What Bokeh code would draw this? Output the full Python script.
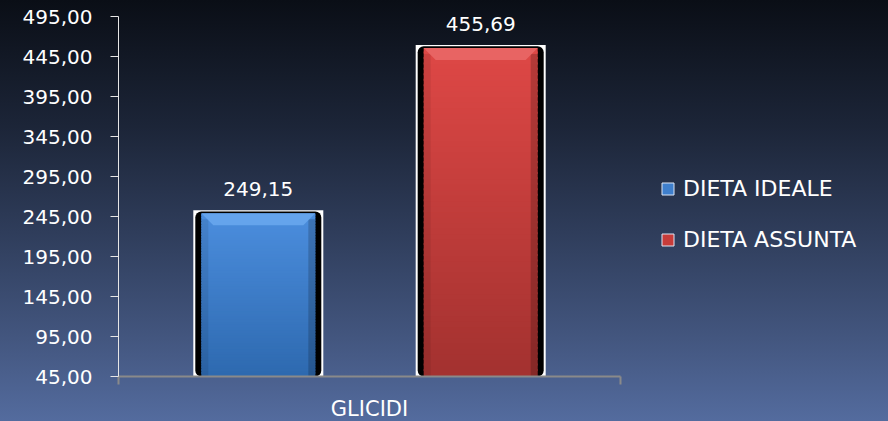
import numpy as np
from bokeh.plotting import figure
from bokeh.models import Range1d, FixedTicker, Legend, LegendItem
from bokeh.core.properties import value
from bokeh.embed import file_html
from bokeh.resources import INLINE

# ---- data ----
category = "GLICIDI"
series = ["DIETA IDEALE", "DIETA ASSUNTA"]
values = [249.15, 455.69]
y_ticks = [45, 95, 145, 195, 245, 295, 345, 395, 445, 495]

# ---- style ----
top_cols = [(76, 142, 222), (222, 72, 70)]
bot_cols = [(46, 106, 176), (164, 50, 48)]
bevel_cols = ["#6aa8ee", "#ea6a68"]
legend_cols = ["#3f7fcc", "#c83c3a"]
FONT = "DejaVu Sans"

W, H = 888, 421
L, B = 118, 45
AXIS_W = 502            # pixel width of the category axis
AXIS_TOP = 16           # pixel y of the top tick
FW, FH = W - L, H - B
ymin, ymax = y_ticks[0], y_ticks[-1]
pxy = (ymax - ymin) / (FH - AXIS_TOP)   # y data units per pixel
pxx = 1.0 / AXIS_W                       # x data units per pixel

p = figure(width=W, height=H, frame_width=FW, frame_height=FH,
           min_border_left=L, min_border_right=0, min_border_top=0, min_border_bottom=B,
           x_range=Range1d(0, FW * pxx), y_range=Range1d(ymin, ymin + FH * pxy),
           output_backend="svg", toolbar_location=None)
p.border_fill_color = None
p.background_fill_color = None
p.outline_line_color = None
p.styles = {"background": "linear-gradient(to bottom, #0a0e16 0%, #1c2538 30%, #2f3d5b 55%, #43567f 80%, #546c9f 100%)"}
p.grid.visible = False

centers = [0.5 - 0.2215, 0.5 + 0.2215]
w_out = 130 * pxx
w_blk = 126 * pxx
w_col = 114 * pxx

legend_items = []
for i, (c, v) in enumerate(zip(centers, values)):
    # white outline and black shadow
    p.vbar(x=[c], top=[v + 3 * pxy], bottom=ymin, width=w_out, fill_color="white", line_color=None)
    p.vbar(x=[c], top=[v + 1.8 * pxy], bottom=ymin, width=w_blk, fill_color="black", line_color=None,
           border_radius=6)
    # vertical gradient of the coloured bar
    n = 60
    edges = np.linspace(ymin, v, n + 1)
    t = np.linspace(0, 1, n)
    cols = []
    for tt in t:
        rgb = [int(b + (a - b) * tt) for a, b in zip(top_cols[i], bot_cols[i])]
        cols.append("#%02x%02x%02x" % tuple(rgb))
    tops = np.minimum(edges[1:] + 2 * pxy, v)
    p.quad(left=c - w_col / 2, right=c + w_col / 2, bottom=edges[:-1], top=tops,
           fill_color=cols, line_color=None)
    # side shading
    sw = 7 * pxx
    p.quad(left=[c + w_col / 2 - sw], right=[c + w_col / 2], bottom=[ymin], top=[v - 6 * pxy],
           fill_color="black", fill_alpha=0.18, line_color=None)
    p.quad(left=[c - w_col / 2], right=[c - w_col / 2 + sw], bottom=[ymin], top=[v - 6 * pxy],
           fill_color="black", fill_alpha=0.08, line_color=None)
    # top bevel
    bh = 12 * pxy
    xs = [c - w_col / 2, c + w_col / 2, c + w_col / 2 - 12 * pxx, c - w_col / 2 + 12 * pxx]
    ys = [v, v, v - bh, v - bh]
    p.patch(xs, ys, fill_color=bevel_cols[i], fill_alpha=0.85, line_color=None)
    # value label
    p.text(x=[c], y=[v], text=[f"{v:.2f}".replace(".", ",")], text_align="center",
           text_baseline="alphabetic", y_offset=-24, text_color="white",
           text_font=value(FONT), text_font_size="20px")
    # legend swatch (drawn off-screen, used only for the legend)
    proxy_leg = p.quad(left=[-1], right=[-1], bottom=[ymin], top=[ymin],
                       fill_color=legend_cols[i], line_color="#dde6f5", line_width=1)
    legend_items.append(LegendItem(label=series[i], renderers=[proxy_leg]))

legend = Legend(items=legend_items, location=(542, 124), margin=0, padding=0,
                border_line_color=None, background_fill_alpha=0,
                glyph_width=15, glyph_height=15, label_standoff=8, spacing=26,
                label_text_color="white", label_text_font=FONT, label_text_font_size="22px",
                label_height=22)
p.add_layout(legend, "center")

# y axis
ya = p.yaxis[0]
ya.ticker = FixedTicker(ticks=y_ticks)
ya.bounds = (ymin, ymax)
ya.major_label_overrides = {t: f"{t:.2f}".replace(".", ",") for t in y_ticks}
ya.axis_line_color = "#e6e6e6"
ya.major_tick_line_color = "#e6e6e6"
ya.major_tick_out = 8
ya.major_tick_in = 0
ya.minor_tick_line_color = None
ya.major_label_standoff = 18
ya.major_label_text_color = "white"
ya.major_label_text_font = FONT
ya.major_label_text_font_size = "20px"

# x axis
xa = p.xaxis[0]
xa.ticker = FixedTicker(ticks=[0.5], minor_ticks=[0, 1])
xa.bounds = (0, 1)
xa.major_label_overrides = {0.5: category}
xa.axis_line_color = "#8a8a8a"
xa.axis_line_width = 2
xa.major_tick_line_color = None
xa.major_tick_out = 0
xa.major_tick_in = 0
xa.minor_tick_line_color = "#8a8a8a"
xa.minor_tick_line_width = 2
xa.minor_tick_out = 8
xa.minor_tick_in = 0
xa.major_label_standoff = 12
xa.major_label_text_color = "white"
xa.major_label_text_font = FONT
xa.major_label_text_font_size = "21px"

open("out.html", "w").write(file_html(p, INLINE))
